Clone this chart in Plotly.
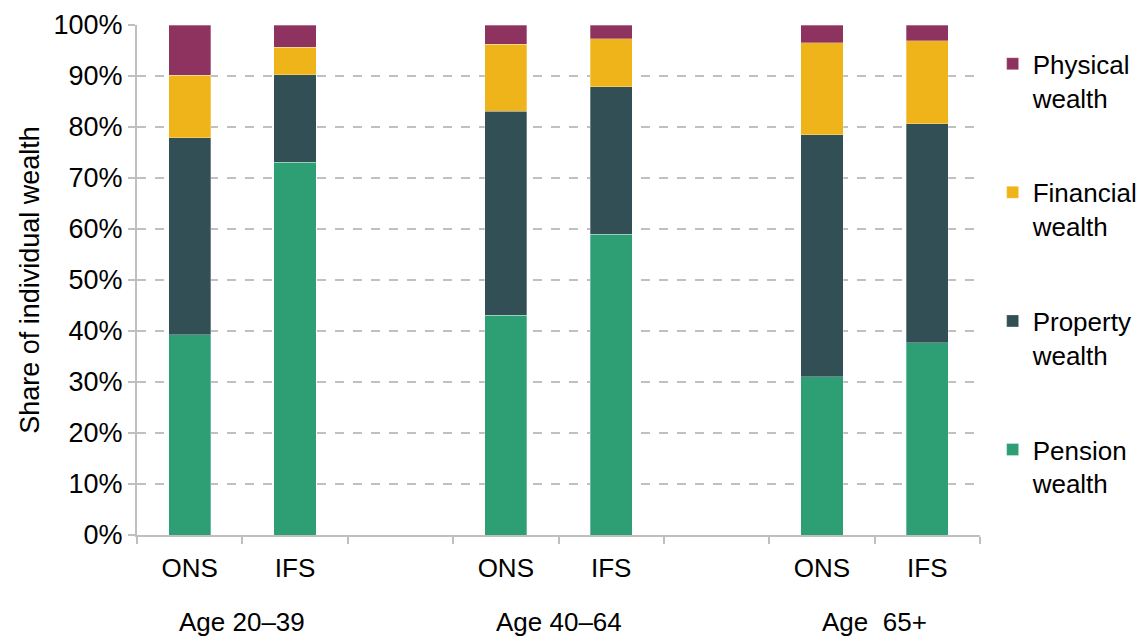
import plotly.graph_objects as go

positions = [0, 1, 3, 4, 6, 7]
source_labels = ["ONS", "IFS", "ONS", "IFS", "ONS", "IFS"]
group_labels = ["Age 20\u201339", "Age 40\u201364", "Age  65+"]
group_centers = [0.5, 3.5, 6.5]

pension = [39.3, 73.1, 43.1, 59.0, 31.0, 37.7]
property_ = [38.6, 17.1, 40.0, 28.9, 47.5, 42.9]
financial = [12.2, 5.4, 13.1, 9.4, 18.0, 16.3]
physical = [9.9, 4.4, 3.8, 2.7, 3.5, 3.1]

series = [
    ("Pension<br>wealth", pension, "#2E9E74"),
    ("Property<br>wealth", property_, "#324F55"),
    ("Financial<br>wealth", financial, "#F0B41B"),
    ("Physical<br>wealth", physical, "#8E3360"),
]

fig = go.Figure()
for i, (name, vals, col) in enumerate(series):
    fig.add_trace(go.Bar(
        x=positions, y=vals, name=name, width=0.4,
        marker=dict(color=col, line=dict(color="rgba(255,255,255,0.6)", width=0.5)),
        legendgroup="g%d" % i, legendrank=10 - i,
    ))

font = "Liberation Sans, Arial, sans-serif"
fig.update_layout(
    barmode="stack",
    width=1141, height=637,
    margin=dict(l=137, r=161, t=25, b=102, autoexpand=False),
    plot_bgcolor="white", paper_bgcolor="white",
    font=dict(family=font, size=26, color="#000000"),
    showlegend=True,
    legend=dict(
        x=1.015, y=0.97, xanchor="left", yanchor="top",
        traceorder="grouped", tracegroupgap=58,
        valign="top", font=dict(size=26), itemwidth=30,
    ),
    xaxis=dict(
        range=[-0.5, 7.5], tickmode="array", tickvals=positions,
        ticktext=source_labels, ticks="", showgrid=False,
        showline=True, linecolor="#BFBFBF", linewidth=2,
        ticklabelstandoff=9, zeroline=False,
        minor=dict(tickmode="array", tickvals=[-0.5 + k for k in range(9)],
                   ticks="outside", ticklen=7, tickcolor="#BFBFBF", tickwidth=2,
                   showgrid=False),
    ),
    yaxis=dict(
        range=[0, 100], dtick=10, ticksuffix="%", tickfont=dict(size=27),
        showgrid=True, gridcolor="#C0C0C0", griddash="dash", gridwidth=2,
        showline=True, linecolor="#BFBFBF", linewidth=2,
        ticks="outside", ticklen=7, tickcolor="#BFBFBF", tickwidth=2,
        zeroline=False,
        title=dict(text="Share of individual wealth", font=dict(size=27), standoff=6),
    ),
)

for gl, gc in zip(group_labels, group_centers):
    fig.add_annotation(x=gc, y=-0.171, xref="x", yref="paper", text=gl,
                       showarrow=False, font=dict(size=26), yanchor="middle")

fig.write_html("out.html")
